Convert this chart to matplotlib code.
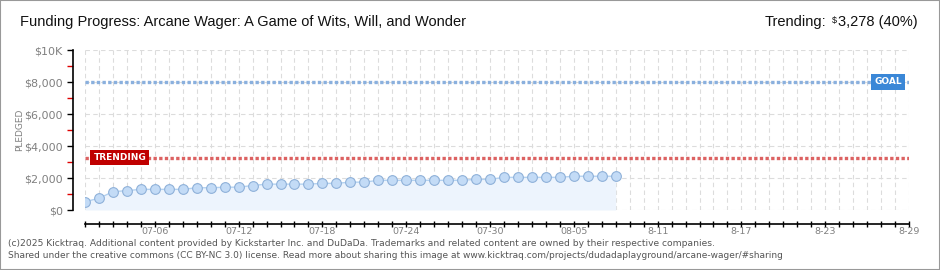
import matplotlib
matplotlib.use('Agg')
import matplotlib.pyplot as plt
from matplotlib.patches import Rectangle
import pandas as pd


# pledged per day
dates = pd.date_range('2025-07-01', periods=39, freq='D')
pledged = [520, 730, 1145, 1210, 1290, 1290, 1290, 1290, 1390, 1390,
           1425, 1425, 1530, 1615, 1615, 1615, 1615, 1665, 1665, 1740,
           1740, 1855, 1855, 1855, 1855, 1855, 1855, 1855, 1915, 1915,
           2040, 2040, 2040, 2040, 2040, 2110, 2110, 2110, 2110]

goal = 8000
trending = 3278
x_start = '2025-07-01'
x_end = '2025-08-29'

x_label_dates = ['2025-07-06', '2025-07-12', '2025-07-18', '2025-07-24', '2025-07-30',
                 '2025-08-05', '2025-08-11', '2025-08-17', '2025-08-23', '2025-08-29']
x_labels = ['07-06', '07-12', '07-18', '07-24', '07-30', '08-05', '8-11', '8-17', '8-23', '8-29']
y_major = [0, 2000, 4000, 6000, 8000, 10000]
y_labels = ['$0', '$2,000', '$4,000', '$6,000', '$8,000', '$10K']
y_minor = [1000, 3000, 5000, 7000, 9000]

title = 'Funding Progress: Arcane Wager: A Game of Wits, Will, and Wonder'
footer = ['(c)2025 Kicktraq. Additional content provided by Kickstarter Inc. and DuDaDa. '
          'Trademarks and related content are owned by their respective companies.',
          'Shared under the creative commons (CC BY-NC 3.0) license. Read more about sharing '
          'this image at www.kicktraq.com/projects/dudadaplayground/arcane-wager/#sharing']

TITLE_FONT = ['Liberation Sans', 'DejaVu Sans']
GRID = '#dcdcdc'
TXT = '#808080'

fig = plt.figure(figsize=(9.4, 2.7), dpi=100)
fig.patch.set_facecolor('white')
ax = fig.add_axes([85 / 940, 60 / 270, 824 / 940, 160 / 270])

# axes limits and grid
ax.set_xlim(pd.Timestamp(x_start), pd.Timestamp(x_end))
ax.set_ylim(0, 10000)
all_days = pd.date_range(x_start, x_end, freq='D')
for d in all_days:
    ax.axvline(d, color=GRID, lw=0.8, ls=(0, (4, 3)), zorder=0)
for v in y_major:
    ax.axhline(v, color=GRID, lw=0.8, ls=(0, (4, 3)), zorder=0)

# goal / trending lines
ax.axhline(goal, color='#8ab0de', lw=2.4, ls=(0, (1, 0.7)), zorder=2)
ax.axhline(trending, color='#dc6262', lw=2.4, ls=(0, (1, 0.7)), zorder=2)

# pledged series
ax.fill_between(dates, pledged, 0, color='#edf4fd', lw=0, zorder=1)
ax.plot(dates, pledged, color='#b3d1f0', lw=1.0, marker='o', markersize=7,
        markerfacecolor='#c3dbf6', markeredgecolor='#8fb1d9', markeredgewidth=0.8, zorder=3)

# labels on the lines
ax.text(57.5 / 59, goal, 'GOAL', transform=ax.get_yaxis_transform(), ha='center', va='center',
        fontsize=6.5, color='white', fontweight='bold', zorder=5,
        bbox=dict(boxstyle='square,pad=0.35', fc='#3a87d7', ec='none'))
ax.text(2.5 / 59, trending, 'TRENDING', transform=ax.get_yaxis_transform(), ha='center', va='center',
        fontsize=6.5, color='white', fontweight='bold', zorder=5,
        bbox=dict(boxstyle='square,pad=0.35', fc='#c00000', ec='none'))

# spines
for side in ['top', 'right']:
    ax.spines[side].set_visible(False)
ax.spines['left'].set_position(('outward', 9))
ax.spines['bottom'].set_position(('outward', 10))
ax.spines['left'].set_linewidth(1.2)
ax.spines['bottom'].set_linewidth(1.2)

# ticks
ax.set_xticks(pd.to_datetime(x_label_dates))
ax.set_xticklabels(x_labels)
ax.set_xticks(all_days, minor=True)
ax.tick_params(axis='x', which='both', direction='inout', length=4, width=1, colors='black',
               labelcolor=TXT, labelsize=6.8, pad=0.5)
ax.set_yticks(y_major)
ax.set_yticklabels(y_labels)
ax.set_yticks(y_minor, minor=True)
ax.tick_params(axis='y', which='major', direction='out', length=4, width=1, colors='black',
               labelcolor=TXT, labelsize=8, pad=3)
ax.tick_params(axis='y', which='minor', direction='out', length=4, width=1, colors='#e00000')
ax.set_ylabel('PLEDGED', color=TXT, fontsize=6.5, labelpad=0)

# header
fig.text(20 / 940, 1 - 22 / 270, title, ha='left', va='center', fontsize=10.5,
         family=TITLE_FONT, color='#111111')
t_val = fig.text(918 / 940, 1 - 22 / 270, '3,278 (40%)', ha='right', va='center', fontsize=10.5,
                 family=TITLE_FONT, color='#111111')
ax.annotate('$', xy=(0, 0.95), xycoords=t_val, xytext=(-1, 0), textcoords='offset points',
            ha='right', va='top', fontsize=6.5, family=TITLE_FONT, color='#111111',
            annotation_clip=False)
ax.annotate('Trending:', xy=(0, 0), xycoords=t_val, xytext=(-9, 0), textcoords='offset points',
            ha='right', va='bottom', fontsize=10.5, family=TITLE_FONT, color='#111111',
            annotation_clip=False)

# footer
fig.text(8 / 940, 1 - 243 / 270, footer[0], ha='left', va='center', fontsize=6.6, color='#555555')
fig.text(8 / 940, 1 - 256 / 270, footer[1], ha='left', va='center', fontsize=6.5, color='#555555')

# frame round the whole picture
fig.add_artist(Rectangle((0, 0), 1, 1, transform=fig.transFigure, fill=False,
                         ec='#999999', lw=1.5))

fig.savefig('out.png', dpi=100)
